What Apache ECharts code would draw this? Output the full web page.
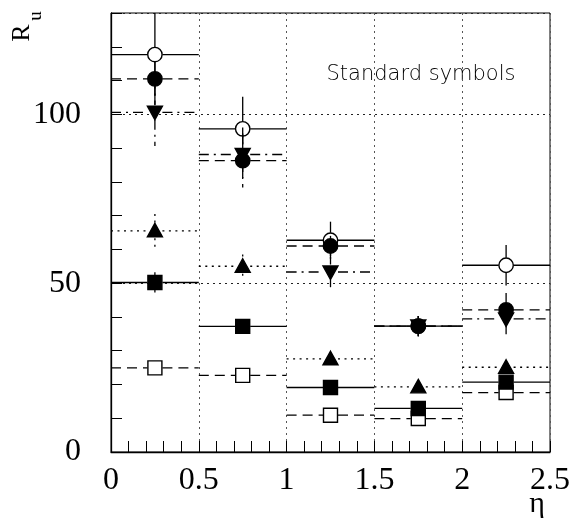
<!DOCTYPE html>
<html><head><meta charset="utf-8">
<script src="https://cdn.jsdelivr.net/npm/echarts@6/dist/echarts.min.js"></script>
<style>html,body{margin:0;padding:0;background:#fff}#c{width:579px;height:523px}</style>
</head><body><div id="c"></div>
<script>
// ---- data ----
const binCenters = [0.25, 0.75, 1.25, 1.75, 2.25];
const binHalfWidth = [0.25, 0.25, 0.25, 0.25, 0.25];
const openCircleY = [117.7, 95.7, 62.7, 37.3, 55.3];
const openCircleErr = [15, 9.5, 5.5, 3, 6];
const filledCircleY = [110.5, 86.3, 61.0, 37.3, 42.1];
const filledCircleErr = [5, 8, 3, 3, 5];
const downTriY = [100.6, 88.1, 53.3, 37.3, 39.4];
const downTriErr = [10, 8, 4.5, 3, 4.5];
const upTriY = [65.5, 55.0, 27.6, 19.3, 25.1];
const upTriErr = [5, 3.5, 2, 1.5, 2];
const filledSquareY = [50.2, 37.2, 19.1, 12.9, 20.7];
const filledSquareErr = [3, 1.5, 1.5, 1.5, 1.5];
const openSquareY = [24.9, 22.7, 10.9, 9.9, 17.6];
const openSquareErr = [1, 1, 1, 1, 1];
const xTickLabels = ['0', '0.5', '1', '1.5', '2', '2.5'];
const yTickLabels = ['0', '50', '100'];

const DASHED = [10, 6];
const DOTTED = [2, 4.5];
const DASHDOT = [10, 5, 2, 5];

function makeSeries(name, ys, errs, marker, filled, dash, z) {
  return {
    type: 'custom', name: name, z: z,
    data: binCenters.map((c, i) => [c, ys[i], errs[i], c - binHalfWidth[i], c + binHalfWidth[i]]),
    encode: { x: [0, 3, 4], y: 1 },
    renderItem: function (params, api) {
      const cs = params.coordSys;
      const cx = api.value(0), y = api.value(1), e = api.value(2);
      const p = api.coord([cx, y]);
      const pl = api.coord([api.value(3), y]);
      const pr = api.coord([api.value(4), y]);
      const pt = api.coord([cx, y + e]);
      const pb = api.coord([cx, y - e]);
      const top = Math.max(pt[1], cs.y);
      const bot = Math.min(pb[1], cs.y + cs.height);
      const r = 7.5;
      const ls = { stroke: '#000', lineWidth: 1.3, lineDash: dash, fill: null };
      const ch = [];
      ch.push({ type: 'line', shape: { x1: pl[0], y1: p[1], x2: p[0] - r, y2: p[1] }, style: ls });
      ch.push({ type: 'line', shape: { x1: p[0] + r, y1: p[1], x2: pr[0], y2: p[1] }, style: ls });
      if (p[1] - top > r) ch.push({ type: 'line', shape: { x1: p[0], y1: top, x2: p[0], y2: p[1] - r }, style: ls });
      if (bot - p[1] > r) ch.push({ type: 'line', shape: { x1: p[0], y1: p[1] + r, x2: p[0], y2: bot }, style: ls });
      const ms = { fill: filled ? '#000' : 'none', stroke: '#000', lineWidth: 1.4 };
      const x = p[0], yy = p[1];
      if (marker === 'circle') ch.push({ type: 'circle', shape: { cx: x, cy: yy, r: 7.2 }, style: ms });
      else if (marker === 'square') ch.push({ type: 'rect', shape: { x: x - 7, y: yy - 7, width: 14, height: 14 }, style: ms });
      else if (marker === 'up') ch.push({ type: 'polygon', shape: { points: [[x, yy - 7.5], [x + 7.5, yy + 6], [x - 7.5, yy + 6]] }, style: ms });
      else if (marker === 'down') ch.push({ type: 'polygon', shape: { points: [[x, yy + 7.5], [x + 7.5, yy - 6], [x - 7.5, yy - 6]] }, style: ms });
      return { type: 'group', children: ch };
    }
  };
}

const chart = echarts.init(document.getElementById('c'), null, { renderer: 'canvas' });
const serif = '"Liberation Serif", "Times New Roman", serif';
const option = {
  animation: false,
  backgroundColor: '#fff',
  grid: { left: 111, right: 29, top: 13, bottom: 71, show: true, borderColor: '#000', borderWidth: 1, containLabel: false },
  xAxis: [{
    type: 'value', min: 0, max: 2.5, interval: 0.1,
    axisLine: { show: true, onZero: false, lineStyle: { color: '#000', width: 1.3 } },
    axisTick: { show: true, inside: true, length: 11, lineStyle: { color: '#000', width: 1 } },
    axisLabel: {
      show: true, margin: 13, color: '#000', fontFamily: serif, fontSize: 32,
      showMinLabel: true, showMaxLabel: true,
      formatter: function (v) { const k = Math.round(v * 10); return k % 5 === 0 ? xTickLabels[k / 5] : ''; }
    },
    splitLine: { show: false }
  }, {
    type: 'value', min: 0, max: 2.5, interval: 0.5, position: 'bottom',
    axisLine: { show: false }, axisTick: { show: false }, axisLabel: { show: false },
    splitLine: { show: true, lineStyle: { color: '#555', width: 1, type: [2, 4] } }
  }],
  yAxis: [{
    type: 'value', min: 0, max: 130, interval: 10,
    axisLine: { show: true, onZero: false, lineStyle: { color: '#000', width: 1.3 } },
    axisTick: { show: true, inside: true, length: 11, lineStyle: { color: '#000', width: 1 } },
    axisLabel: {
      show: true, margin: 30, color: '#000', fontFamily: serif, fontSize: 32,
      formatter: function (v) { return (Math.round(v) % 50 === 0) ? yTickLabels[Math.round(v) / 50] : ''; }
    },
    splitLine: { show: false }
  }, {
    type: 'value', min: 0, max: 130, interval: 50, position: 'left',
    axisLine: { show: false }, axisTick: { show: false }, axisLabel: { show: false },
    splitLine: { show: true, lineStyle: { color: '#222', width: 1, type: [2, 4] } }
  }],
  series: [
    makeSeries('open square', openSquareY, openSquareErr, 'square', false, DASHED, 2),
    makeSeries('open circle', openCircleY, openCircleErr, 'circle', false, null, 3),
    makeSeries('filled square', filledSquareY, filledSquareErr, 'square', true, null, 4),
    makeSeries('up triangle', upTriY, upTriErr, 'up', true, DOTTED, 5),
    makeSeries('down triangle', downTriY, downTriErr, 'down', true, DASHDOT, 6),
    makeSeries('filled circle', filledCircleY, filledCircleErr, 'circle', true, DASHED, 7)
  ],
  graphic: [
    { type: 'text', x: 22, y: 33, rotation: Math.PI / 2, style: { text: 'R', font: '26px ' + serif, fill: '#000', textAlign: 'center', textVerticalAlign: 'middle' } },
    { type: 'text', x: 36, y: 16, rotation: Math.PI / 2, style: { text: 'u', font: '19px ' + serif, fill: '#000', textAlign: 'center', textVerticalAlign: 'middle' } },
    { type: 'text', x: 537, y: 504, style: { text: 'η', font: '30px ' + serif, fill: '#000', textAlign: 'center', textVerticalAlign: 'middle' } },
    { type: 'text', x: 421, y: 75, style: { text: 'Standard symbols', font: '200 21px "DejaVu Sans"', fill: '#000', textAlign: 'center', textVerticalAlign: 'middle' } }
  ]
};
chart.setOption(option);
</script>
</body></html>
